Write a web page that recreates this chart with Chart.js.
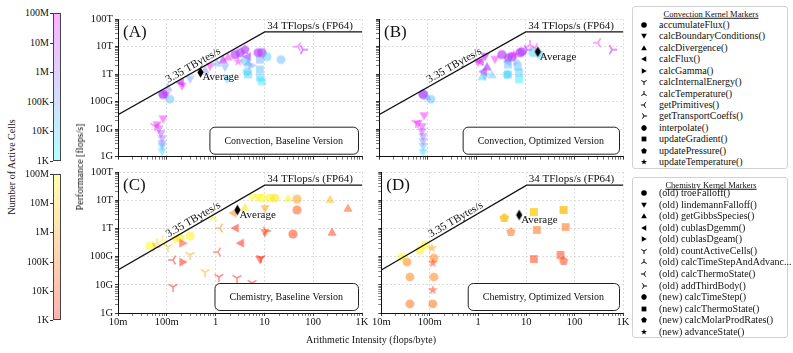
<!DOCTYPE html>
<html>
<head>
<meta charset="utf-8">
<script src="https://cdn.jsdelivr.net/npm/chart.js"></script>
<style>
  body { margin: 0; width: 793px; height: 353px; position: relative; overflow: hidden; background: #fff;
         font-family: "Liberation Serif", "DejaVu Serif", serif; color: #111; }
  .abs { position: absolute; white-space: nowrap; line-height: 1; }
  .cbar { position: absolute; box-sizing: border-box; border: 1px solid #444; }
  .legend { position: absolute; box-sizing: border-box; border: 1px solid #d2d2d2; border-radius: 3px; }
</style>
</head>
<body>
<canvas id="panelA" class="abs"></canvas>
<canvas id="panelB" class="abs"></canvas>
<canvas id="panelC" class="abs"></canvas>
<canvas id="panelD" class="abs"></canvas>
<script>
// ---- data ----
const markerShapes = ['o', 'v', '^', '<', '>', '1', '2', '3', '4', '8', 's', 'p', '*'];
const convKernels = ['accumulateFlux()', 'calcBoundaryConditions()', 'calcDivergence()', 'calcFlux()', 'calcGamma()',
  'calcInternalEnergy()', 'calcTemperature()', 'getPrimitives()', 'getTransportCoeffs()', 'interpolate()',
  'updateGradient()', 'updatePressure()', 'updateTemperature()'];
const chemKernels = ['(old) troeFalloff()', '(old) lindemannFalloff()', '(old) getGibbsSpecies()', '(old) cublasDgemm()',
  '(old) cublasDgeam()', '(old) countActiveCells()', '(old) calcTimeStepAndAdvanc...', '(old) calcThermoState()',
  '(old) addThirdBody()', '(new) calcTimeStep()', '(new) calcThermoState()', '(new) calcMolarProdRates()', '(new) advanceState()'];

const perfTickValues = [1e9, 1e10, 1e11, 1e12, 1e13, 1e14];
const perfTickLabels = ['1G', '10G', '100G', '1T', '10T', '100T'];
const aiTickValues = [0.01, 0.1, 1, 10, 100, 1000];
const aiTickLabels = ['10m', '100m', '1', '10', '100', '1K'];
const cellTickLabels = ['100M', '10M', '1M', '100K', '10K', '1K'];

const peakBandwidth = 3.35e12;  // bytes/s
const peakFlops = 34e12;        // FP64
const bwLabelAI = 0.4;
const peakLabelAI = 86;

// Convection, baseline (A)
const convBaseAI = [0.084,0.063,0.069,0.076,0.080,0.080,0.080,0.080,0.057,0.084,0.084,0.084,0.096,0.106,0.116,0.186,0.186,0.205,0.30,0.61,0.77,1.07,1.42,1.42,1.56,1.71,1.80,2.5,2.5,2.9,3.2,3.2,4.0,4.0,4.4,4.4,4.6,4.4,4.6,5.6,7.4,7.4,8.1,8.1,8.1,8.9,8.9,8.9,11.3,21.9,48.8,61.8,61.8,4.0];
const convBasePerf = [2.3e10,1.4e10,1.0e10,6.7e9,4.4e9,2.9e9,2.3e9,1.5e9,1.3e10,1.85e11,1.85e11,1.85e11,1.7e11,3.3e11,1.22e11,5.0e11,5.0e11,3.6e11,6.4e11,1.46e12,1.88e12,2.6e12,3.35e12,3.35e12,1.73e12,6.4e11,4.3e12,5.1e12,5.1e12,2.84e12,6.0e12,6.0e12,7.7e12,7.7e12,4.3e12,4.3e12,2.6e12,1.24e12,9.7e11,2.04e12,6.0e12,6.0e12,3.35e12,1.46e12,7.5e11,5.4e11,6.0e12,6.0e12,4.3e12,3.35e12,9.85e12,7.7e12,7.7e12,3.0e12];
const convBaseCells = [1e8,5e7,2e7,5e6,1e6,3e5,5e4,5e3,8e7,3e5,1e6,1e7,3e7,3e5,3e4,1e6,1e7,1e8,1e5,3e5,8e7,1e5,1e6,1e7,1e5,1e4,1e8,1e6,1e7,1e8,1e6,1e7,1e6,1e7,1e6,1e7,1e5,1e4,1e4,1e5,1e6,1e7,1e5,3e4,1e4,3e3,1e6,1e7,1e4,3e4,1e8,1e6,1e7,2e4];
const convBaseKernel = [1,1,1,1,1,1,1,1,5,0,0,0,1,2,9,3,3,1,1,2,1,2,2,2,1,1,2,0,0,12,0,0,11,11,3,3,2,9,10,4,9,9,10,10,10,10,0,0,0,9,7,8,8,9];

// Convection, optimized (B)
const convOptAI = [0.084,0.063,0.076,0.076,0.080,0.080,0.080,0.080,0.057,0.080,0.080,0.080,0.116,0.096,1.17,1.17,1.49,1.49,1.07,1.63,1.63,1.35,1.35,1.49,1.29,2.07,3.3,3.3,5.3,5.3,7.7,7.7,8.5,8.5,4.4,4.4,4.2,6.7,4.4,4.4,7.0,7.4,7.4,4.2,12.4,15.7,10.8,10.8,14.3,19.9,2.38,5.8,307,596,596];
const convOptPerf = [2.98e10,1.54e10,1.2e10,7.9e9,5.2e9,3.5e9,2.3e9,1.39e9,1.67e10,1.85e11,1.85e11,1.85e11,1.22e11,1.56e11,2.84e12,2.84e12,4.3e12,4.3e12,2.6e12,1.88e12,1.88e12,1.24e12,1.24e12,8.2e11,8.2e11,9.7e11,5.1e12,5.1e12,4.3e12,4.3e12,6.0e12,6.0e12,6.5e12,6.5e12,3.95e12,3.95e12,2.84e12,2.84e12,2.2e12,9.7e11,1.88e12,1.14e12,6.4e11,9.7e11,1.16e13,9.1e12,7.7e12,7.7e12,6.0e12,5.1e12,3.35e12,5.1e12,1.37e13,7.7e12,7.7e12];
const convOptCells = [1e8,5e7,2e7,5e6,1e6,3e5,5e4,5e3,8e7,3e5,1e6,1e7,3e4,3e5,1e6,1e7,1e6,1e7,1e8,1e6,1e7,1e6,1e7,1e5,1e4,3e4,1e6,1e7,1e6,1e7,1e6,1e7,1e6,1e7,1e6,1e7,3e5,1e5,3e4,1e4,3e4,1e4,3e3,1e4,1e8,8e7,1e6,1e7,1e4,1e4,8e7,1e8,1e8,1e6,1e7];
const convOptKernel = [1,1,1,1,1,1,1,1,5,0,0,0,9,2,3,3,1,1,1,2,2,3,3,1,2,2,0,0,0,0,0,0,9,9,11,11,3,4,10,10,10,10,10,9,6,7,8,8,0,9,1,12,7,8,8];

// Chemistry, baseline (C)
const chemBaseAI = [0.045,0.058,0.063,0.084,0.106,0.147,0.186,0.215,0.30,0.30,0.134,0.215,0.134,0.61,0.885,1.23,1.12,1.17,2.5,3.2,2.75,2.27,4.0,5.6,7.4,8.9,10.3,13.0,16.5,30.5,46.6,46.6,221,516,10.3,10.8,38.5,243,8.1,8.5,5.6];
const chemBasePerf = [2.4e11,2.2e11,3.0e11,3.9e11,2.2e11,3.9e11,4.6e11,3.0e11,5.4e11,1.14e11,7.6e10,6.4e10,8.4e9,2.8e10,2.34e12,1.03e12,1.46e11,1.9e10,1.03e12,3.0e11,1.74e10,3.5e12,5.7e12,1.2e13,1.2e13,1.2e13,4.9e12,1.2e13,1.2e13,1.2e13,1.1e13,4.5e12,1.1e13,5.3e12,6.9e11,8.1e11,6.3e11,7.5e11,7.6e10,8.9e10,1.16e10];
const chemBaseCells = [1e8,3e5,1e7,5e7,3e6,5e7,3e7,1e4,5e7,1e6,3e3,3e3,2e3,1e6,5e7,3e5,1e4,3e3,3e3,2e3,3e3,3e5,3e7,1e8,5e7,1e8,1e6,5e7,3e7,5e7,1e6,3e4,3e6,3e4,1e4,1e4,1e4,1e4,5e3,3e3,3e3];
const chemBaseKernel = [0,8,6,6,5,1,0,4,0,5,7,4,5,5,6,7,7,5,3,3,5,3,2,1,1,0,1,0,0,2,0,0,2,2,1,8,0,2,1,5,5];

// Chemistry, optimized (D)
const chemOptAI = [0.027,0.034,0.063,0.080,0.111,0.122,0.116,0.039,0.122,0.116,0.039,0.116,3.5,3.5,4.8,14.3,14.3,16.5,14.3,59,59,65,51,59];
const chemOptPerf = [9.7e10,6.4e10,1.7e11,2.6e11,2.0e11,8.9e10,5.9e10,1.9e10,1.9e10,6.5e9,2.1e9,2.1e9,2.34e12,2.34e12,7.5e11,3.8e12,3.8e12,8.8e11,8.2e10,4.5e12,4.5e12,1.12e12,1.14e11,7.0e10];
const chemOptCells = [1e8,3e5,5e7,1e8,1e6,3e5,1e4,3e5,3e5,1e4,1e5,1e5,1e6,1e7,1e5,1e6,3e7,1e5,1e4,1e6,1e7,1e5,1e4,1e4];
const chemOptKernel = [9,9,9,9,12,9,12,9,9,12,9,9,11,11,11,10,10,10,10,10,10,10,10,11];

// averages per panel (A, B, C, D)
const avgAI = [0.49, 18, 2.8, 7.1];
const avgPerf = [1.15e12, 6.5e12, 4.5e12, 3.0e12];

const SERIF = '"Liberation Serif", "DejaVu Serif", serif';

// ---- markers ----
function shapePath(g, shape, r) {
  g.beginPath();
  const poly = pts => { pts.forEach((p, i) => i ? g.lineTo(p[0], p[1]) : g.moveTo(p[0], p[1])); g.closePath(); };
  const ring = (n, rot, rad) => {
    const pts = [];
    for (let i = 0; i < n; i++) { const a = rot + i * 2 * Math.PI / n; pts.push([rad * Math.cos(a), rad * Math.sin(a)]); }
    poly(pts);
  };
  switch (shape) {
    case 'o': g.arc(0, 0, r, 0, 2 * Math.PI); break;
    case '8': ring(8, Math.PI / 8, r * 1.02); break;
    case 's': g.rect(-r * 0.85, -r * 0.85, r * 1.7, r * 1.7); break;
    case 'p': ring(5, -Math.PI / 2, r * 1.05); break;
    case '*': {
      const pts = [];
      for (let i = 0; i < 10; i++) {
        const a = -Math.PI / 2 + i * Math.PI / 5, rr = i % 2 ? r * 0.45 : r * 1.15;
        pts.push([rr * Math.cos(a), rr * Math.sin(a)]);
      }
      poly(pts); break;
    }
    case 'd': poly([[0, -r], [r * 0.6, 0], [0, r], [-r * 0.6, 0]]); break;
    case '^': poly([[0, -r], [r, r * 0.8], [-r, r * 0.8]]); break;
    case 'v': poly([[0, r], [r, -r * 0.8], [-r, -r * 0.8]]); break;
    case '<': poly([[-r, 0], [r * 0.8, -r], [r * 0.8, r]]); break;
    case '>': poly([[r, 0], [-r * 0.8, -r], [-r * 0.8, r]]); break;
    default: {
      const base = { '1': 90, '2': -90, '3': 180, '4': 0 }[shape];
      for (let i = 0; i < 3; i++) {
        const a = (base + i * 120) * Math.PI / 180;
        g.moveTo(0, 0); g.lineTo(r * 1.1 * Math.cos(a), r * 1.1 * Math.sin(a));
      }
    }
  }
}

const markerCache = {};
function markerCanvas(shape, color, r, lw) {
  const key = shape + '|' + color + '|' + r;
  if (markerCache[key]) return markerCache[key];
  const s = Math.ceil(2 * r + 4);
  const c = document.createElement('canvas');
  c.width = s; c.height = s;
  const g = c.getContext('2d');
  g.translate(s / 2, s / 2);
  shapePath(g, shape, r);
  if ('1234'.includes(shape)) { g.strokeStyle = color; g.lineWidth = lw; g.stroke(); }
  else { g.fillStyle = color; g.fill(); }
  markerCache[key] = c;
  return c;
}

function cellColor(map, cells) {
  const t = Math.min(1, Math.max(0, (Math.log10(cells) - 3) / 5));
  if (map === 'cool') return `rgba(${Math.round(255 * t)},${Math.round(255 * (1 - t))},255,0.44)`;
  return `rgba(255,${Math.round(255 * t)},0,0.5)`;
}

// ---- axes ----
function isDecade(v) { const l = Math.log10(v); return Math.abs(l - Math.round(l)) < 1e-6; }
function logTicks(min, max) {
  const out = [];
  for (let e = Math.floor(Math.log10(min)); e <= Math.ceil(Math.log10(max)); e++) {
    for (let m = 1; m <= 9; m++) {
      const v = Number((m * Math.pow(10, e)).toPrecision(12));
      if (v >= min * (1 - 1e-9) && v <= max * (1 + 1e-9)) out.push({ value: v });
    }
  }
  return out;
}
function logAxis(isX, vals, labels, showLabels, size) {
  return {
    type: 'logarithmic', position: isX ? 'bottom' : 'left',
    min: vals[0], max: vals[vals.length - 1],
    afterBuildTicks: s => { s.ticks = logTicks(vals[0], vals[vals.length - 1]); },
    afterFit: s => { if (isX) s.height = size; else s.width = size; },
    ticks: {
      autoSkip: false, maxRotation: 0, minRotation: 0, padding: isX ? 0 : 2, color: '#111',
      font: { family: SERIF, size: 10.5 },
      callback: v => {
        const i = vals.findIndex(t => Math.abs(t / v - 1) < 1e-6);
        return showLabels && i >= 0 ? labels[i] : '';
      }
    },
    grid: {
      color: c => (c.tick && isDecade(c.tick.value)) ? '#d6d6d6' : 'rgba(0,0,0,0)',
      lineWidth: 0.8, tickLength: 3, tickColor: '#222',
      tickWidth: c => (c.tick && isDecade(c.tick.value)) ? 0.9 : 0.6
    },
    border: { display: true, color: '#111', width: 1, dash: [2, 2] }
  };
}

// ---- annotations drawn through the chart scales ----
const panelDecor = {
  id: 'panelDecor',
  afterDatasetsDraw(chart, args, o) {
    const { ctx, chartArea: a, scales: { x, y } } = chart;
    ctx.save();
    ctx.fillStyle = '#111';
    // bandwidth roof label
    const x1 = x.getPixelForValue(bwLabelAI), y1 = y.getPixelForValue(peakBandwidth * bwLabelAI);
    const x2 = x.getPixelForValue(bwLabelAI * 10), y2 = y.getPixelForValue(peakBandwidth * bwLabelAI * 10);
    ctx.save();
    ctx.translate(x1, y1);
    ctx.rotate(Math.atan2(y2 - y1, x2 - x1));
    ctx.font = '11px ' + SERIF;
    ctx.textAlign = 'center'; ctx.textBaseline = 'alphabetic';
    ctx.fillText('3.35 TBytes/s', 0, -3);
    ctx.restore();
    // compute roof label
    ctx.font = '11px ' + SERIF;
    ctx.textAlign = 'center'; ctx.textBaseline = 'alphabetic';
    ctx.fillText('34 TFlops/s (FP64)', x.getPixelForValue(peakLabelAI), y.getPixelForValue(peakFlops) - 3);
    // panel letter
    ctx.font = '17px ' + SERIF;
    ctx.textAlign = 'left'; ctx.textBaseline = 'middle';
    ctx.fillText(o.letter, a.left + 5, a.top + 14);
    // average label
    const avg = chart.getDatasetMeta(0).data[0];
    ctx.font = '11px ' + SERIF;
    ctx.fillText('Average', avg.x + 2, avg.y + 5);
    // version box
    ctx.font = '10px ' + SERIF;
    const w = ctx.measureText(o.box).width + 30, h = 27;
    const bx = a.right - 4 - w, by = a.bottom - 3 - h;
    ctx.beginPath();
    ctx.roundRect(bx + 0.5, by + 0.5, w, h, 5);
    ctx.fillStyle = '#fff'; ctx.fill();
    ctx.strokeStyle = '#222'; ctx.lineWidth = 1; ctx.stroke();
    ctx.fillStyle = '#111'; ctx.textAlign = 'center'; ctx.textBaseline = 'middle';
    ctx.fillText(o.box, bx + w / 2, by + h / 2 + 1);
    ctx.restore();
  }
};

function makePanel(id, cfg) {
  const cv = document.getElementById(id);
  cv.width = cfg.w; cv.height = cfg.h;
  cv.style.left = cfg.left + 'px'; cv.style.top = cfg.top + 'px';
  const points = cfg.ai.map((v, i) => ({ x: v, y: cfg.perf[i], c: cfg.cells[i], k: cfg.kernel[i] }));
  const roofline = [
    { x: aiTickValues[0], y: peakBandwidth * aiTickValues[0] },
    { x: peakFlops / peakBandwidth, y: peakFlops },
    { x: aiTickValues[aiTickValues.length - 1], y: peakFlops }
  ];
  new Chart(cv, {
    type: 'scatter',
    data: {
      datasets: [
        { label: 'Average', data: [{ x: cfg.avg[0], y: cfg.avg[1] }], pointRadius: 5,
          pointStyle: markerCanvas('d', '#000', 5.2, 0) },
        { label: 'Roofline', data: roofline, showLine: true, borderColor: '#111', borderWidth: 1.3,
          pointRadius: 0, fill: false },
        { label: 'Kernels', data: points, pointRadius: 5,
          pointStyle: c => c.raw ? markerCanvas(markerShapes[c.raw.k], cellColor(cfg.cmap, c.raw.c), 4.6, 1.5) : 'circle' }
      ]
    },
    options: {
      responsive: false, animation: false, devicePixelRatio: 1, events: [],
      layout: { padding: { top: 10, right: cfg.padRight, left: 0, bottom: 0 } },
      plugins: { legend: { display: false }, tooltip: { enabled: false },
                 panelDecor: { letter: cfg.letter, box: cfg.box } },
      scales: {
        x: logAxis(true, aiTickValues, aiTickLabels, cfg.xLabels, cfg.xSize),
        y: logAxis(false, perfTickValues, perfTickLabels, cfg.yLabels, cfg.ySize)
      }
    },
    plugins: [panelDecor]
  });
}

makePanel('panelA', { left: 78, top: 9, w: 292, h: 156, padRight: 8, xSize: 7, ySize: 40, xLabels: false, yLabels: true,
  ai: convBaseAI, perf: convBasePerf, cells: convBaseCells, kernel: convBaseKernel, cmap: 'cool',
  avg: [avgAI[0], avgPerf[0]], letter: '(A)', box: 'Convection, Baseline Version' });
makePanel('panelB', { left: 372, top: 9, w: 258, h: 156, padRight: 7, xSize: 7, ySize: 7, xLabels: false, yLabels: false,
  ai: convOptAI, perf: convOptPerf, cells: convOptCells, kernel: convOptKernel, cmap: 'cool',
  avg: [avgAI[1], avgPerf[1]], letter: '(B)', box: 'Convection, Optimized Version' });
makePanel('panelC', { left: 78, top: 162, w: 292, h: 176, padRight: 8, xSize: 25, ySize: 40, xLabels: true, yLabels: true,
  ai: chemBaseAI, perf: chemBasePerf, cells: chemBaseCells, kernel: chemBaseKernel, cmap: 'autumn',
  avg: [avgAI[2], avgPerf[2]], letter: '(C)', box: 'Chemistry, Baseline Version' });
makePanel('panelD', { left: 372, top: 162, w: 258, h: 176, padRight: 7, xSize: 25, ySize: 7, xLabels: true, yLabels: false,
  ai: chemOptAI, perf: chemOptPerf, cells: chemOptCells, kernel: chemOptKernel, cmap: 'autumn',
  avg: [avgAI[3], avgPerf[3]], letter: '(D)', box: 'Chemistry, Optimized Version' });

// ---- page furniture: colorbars, titles, legends ----
function addText(txt, x, y, size, anchor, rotate) {
  const d = document.createElement('div');
  d.className = 'abs';
  d.textContent = txt;
  d.style.fontSize = size + 'px';
  d.style.left = x + 'px'; d.style.top = y + 'px';
  const tx = anchor === 'center' ? '-50%' : anchor === 'right' ? '-100%' : '0';
  d.style.transform = `translate(${tx}, -50%)` + (rotate ? ` rotate(${rotate}deg)` : '');
  document.body.appendChild(d);
  return d;
}
function addBox(cls, x, y, w, h, bg) {
  const d = document.createElement('div');
  d.className = cls;
  Object.assign(d.style, { left: x + 'px', top: y + 'px', width: w + 'px', height: h + 'px' });
  if (bg) d.style.background = bg;
  document.body.appendChild(d);
  return d;
}
function colorbar(top, height, topColor, bottomColor) {
  addBox('cbar', 53, top, 8, height, `linear-gradient(to bottom, ${topColor}, ${bottomColor})`);
  cellTickLabels.forEach((lab, i) => {
    const yy = top + i * height / (cellTickLabels.length - 1);
    addBox('abs', 50, Math.round(yy), 3, 1, '#333');
    addText(lab, 49, yy, 10, 'right');
  });
}
colorbar(13, 148, 'rgb(255,178,255)', 'rgb(178,255,255)');
colorbar(174, 146, 'rgb(255,255,178)', 'rgb(255,178,178)');
addText('Number of Active Cells', 12, 167, 10, 'center', -90);
addText('Performance [flops/s]', 80, 167, 10, 'center', -90);
addText('Arithmetic Intensity (flops/byte)', 371, 340, 10, 'center');

function legend(top, height, title, names, firstY, step) {
  addBox('legend', 632, top, 156, height);
  const t = addText(title, 711, top + 8, 8.5, 'center');
  t.style.textDecoration = 'underline';
  names.forEach((name, i) => {
    const yy = firstY + i * step;
    const m = markerCanvas(markerShapes[i], '#000', 2.8, 1).cloneNode();
    m.getContext('2d').drawImage(markerCanvas(markerShapes[i], '#000', 2.8, 1), 0, 0);
    m.className = 'abs';
    m.style.left = (644 - m.width / 2) + 'px';
    m.style.top = (yy - m.height / 2) + 'px';
    document.body.appendChild(m);
    addText(name, 659, yy, 10, 'left');
  });
}
legend(6, 163, 'Convection Kernel Markers', convKernels, 25, 11.42);
legend(177, 161, 'Chemistry Kernel Markers', chemKernels, 193, 11.58);
</script>
</body>
</html>
